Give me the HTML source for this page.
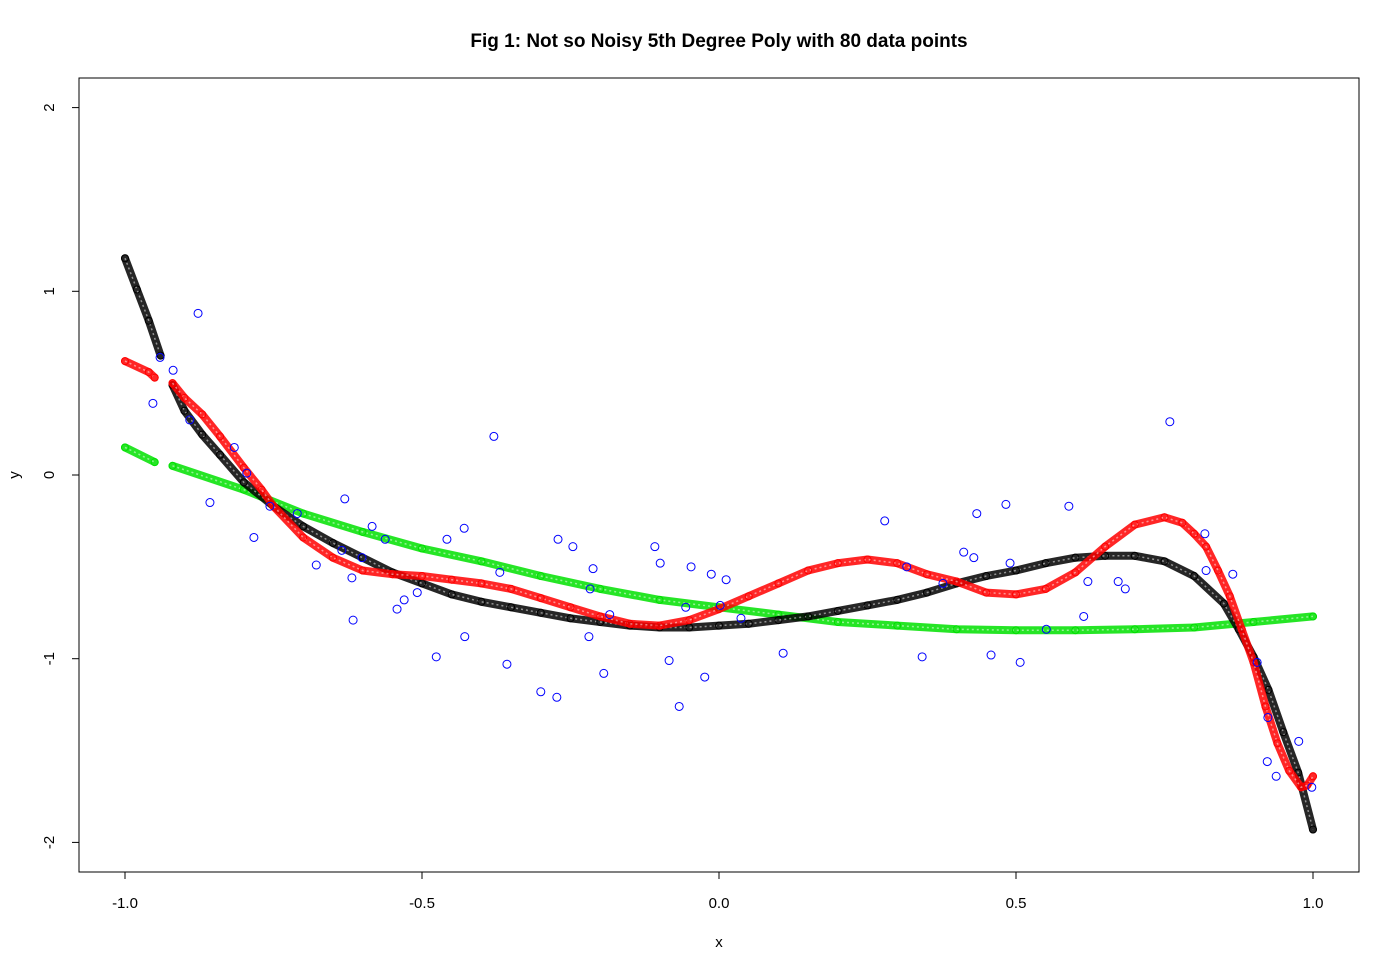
<!DOCTYPE html>
<html><head><meta charset="utf-8"><style>
html,body{margin:0;padding:0;background:#fff}
svg{display:block;font-family:"Liberation Sans",Arial,sans-serif}
</style></head><body>
<svg id="chart" width="1400" height="971" viewBox="0 0 1400 971">
<text x="719" y="47" text-anchor="middle" font-size="19" font-weight="bold">Fig 1: Not so Noisy 5th Degree Poly with 80 data points</text>
<rect x="79" y="78" width="1280" height="794" fill="none" stroke="#000" stroke-width="1"/>
<g id="axes"></g>
<g id="marks"></g>
<text x="719" y="947" text-anchor="middle" font-size="15">x</text>
<text x="19" y="475" text-anchor="middle" font-size="15" transform="rotate(-90 19 475)">y</text>
</svg>
<script>
const xTicks = [-1.0, -0.5, 0.0, 0.5, 1.0];
const xTickLabels = ["-1.0", "-0.5", "0.0", "0.5", "1.0"];
const yTicks = [-2, -1, 0, 1, 2];
const yTickLabels = ["-2", "-1", "0", "1", "2"];

// true polynomial (black)
const blackX = [-1,-0.98,-0.96,-0.94,null,-0.92,-0.9,-0.87,-0.84,-0.8,-0.75,-0.7,-0.65,-0.6,-0.55,-0.5,-0.45,-0.4,-0.35,-0.3,-0.25,-0.2,-0.15,-0.1,-0.05,0,0.05,0.1,0.15,0.2,0.25,0.3,0.35,0.4,0.45,0.5,0.55,0.6,0.65,0.7,0.75,0.8,0.85,0.875,0.9,0.925,0.95,0.975,1.0];
const blackY = [1.18,1.01,0.84,0.65,null,0.49,0.35,0.22,0.11,-0.04,-0.17,-0.28,-0.37,-0.45,-0.53,-0.59,-0.65,-0.69,-0.72,-0.75,-0.78,-0.80,-0.82,-0.83,-0.83,-0.82,-0.81,-0.79,-0.77,-0.74,-0.71,-0.68,-0.64,-0.59,-0.55,-0.52,-0.48,-0.45,-0.44,-0.44,-0.47,-0.55,-0.70,-0.84,-0.99,-1.17,-1.40,-1.62,-1.93];

// high-degree fit (red)
const redX = [-1,-0.96,-0.95,null,-0.92,-0.9,-0.87,-0.84,-0.8,-0.77,-0.75,-0.7,-0.65,-0.6,-0.55,-0.5,-0.45,-0.4,-0.35,-0.3,-0.25,-0.2,-0.15,-0.1,-0.05,0,0.05,0.1,0.15,0.2,0.25,0.3,0.35,0.4,0.45,0.5,0.55,0.6,0.65,0.7,0.75,0.78,0.8,0.82,0.84,0.86,0.88,0.9,0.92,0.94,0.96,0.98,0.99,1.0];
const redY = [0.62,0.56,0.53,null,0.50,0.42,0.33,0.21,0.04,-0.08,-0.17,-0.34,-0.45,-0.52,-0.54,-0.55,-0.57,-0.59,-0.62,-0.67,-0.72,-0.77,-0.81,-0.82,-0.79,-0.73,-0.66,-0.59,-0.52,-0.48,-0.46,-0.48,-0.54,-0.58,-0.64,-0.65,-0.62,-0.53,-0.39,-0.27,-0.23,-0.26,-0.32,-0.39,-0.52,-0.66,-0.84,-1.02,-1.26,-1.46,-1.61,-1.70,-1.69,-1.64];

// low-degree fit (green)
const greenX = [-1,-0.95,null,-0.92,-0.8,-0.7,-0.6,-0.5,-0.4,-0.3,-0.2,-0.1,0,0.1,0.2,0.3,0.4,0.5,0.6,0.7,0.8,0.9,1.0];
const greenY = [0.15,0.07,null,0.05,-0.08,-0.21,-0.31,-0.40,-0.47,-0.55,-0.62,-0.68,-0.72,-0.76,-0.80,-0.82,-0.84,-0.845,-0.845,-0.84,-0.83,-0.80,-0.77];

// noisy sample points (blue)
const sampleX = [-0.877,-0.919,-0.953,-0.816,-0.857,-0.783,-0.941,-0.891,-0.795,-0.710,-0.756,-0.630,-0.584,-0.562,-0.678,-0.618,-0.635,-0.601,-0.458,-0.429,-0.508,-0.530,-0.542,-0.616,-0.428,-0.379,-0.369,-0.476,-0.357,-0.300,-0.273,-0.271,-0.246,-0.217,-0.212,-0.219,-0.194,-0.184,-0.108,-0.099,-0.084,-0.067,-0.056,-0.047,-0.024,-0.013,0.002,0.012,0.037,0.108,0.279,0.759,0.434,0.483,0.589,0.412,0.429,0.490,0.316,0.377,0.621,0.672,0.684,0.614,0.551,0.342,0.458,0.507,0.818,0.820,0.865,0.906,0.924,0.976,0.923,0.938,0.998];
const sampleY = [0.88,0.57,0.39,0.15,-0.15,-0.34,0.64,0.30,0.01,-0.21,-0.17,-0.13,-0.28,-0.35,-0.49,-0.56,-0.41,-0.45,-0.35,-0.29,-0.64,-0.68,-0.73,-0.79,-0.88,0.21,-0.53,-0.99,-1.03,-1.18,-1.21,-0.35,-0.39,-0.62,-0.51,-0.88,-1.08,-0.76,-0.39,-0.48,-1.01,-1.26,-0.72,-0.50,-1.10,-0.54,-0.71,-0.57,-0.78,-0.97,-0.25,0.29,-0.21,-0.16,-0.17,-0.42,-0.45,-0.48,-0.50,-0.59,-0.58,-0.58,-0.62,-0.77,-0.84,-0.99,-0.98,-1.02,-0.32,-0.52,-0.54,-1.02,-1.32,-1.45,-1.56,-1.64,-1.70];

const NS = "http://www.w3.org/2000/svg";
const sx = v => 719 + v * 594;
const sy = v => 475 - v * 183.7;
const axes = document.getElementById('axes');
const marks = document.getElementById('marks');
function mk(tag, attrs, parent){ const e = document.createElementNS(NS, tag); for (const k in attrs) e.setAttribute(k, attrs[k]); parent.appendChild(e); return e; }

mk('line', {x1: sx(xTicks[0]), x2: sx(xTicks[xTicks.length-1]), y1: 872, y2: 872, stroke: '#000'}, axes);
xTicks.forEach((t, i) => {
  const tk = mk('line', {x1: sx(t), x2: sx(t), y1: 872, y2: 879, stroke: '#000'}, axes);
  
  
  const lb = mk('text', {x: sx(t), y: 908, 'text-anchor': 'middle', 'font-size': 15}, axes);
  lb.textContent = xTickLabels[i];
  
  
});
mk('line', {x1: 79, x2: 79, y1: sy(yTicks[0]), y2: sy(yTicks[yTicks.length-1]), stroke: '#000'}, axes);
yTicks.forEach((t, i) => {
  const tk = mk('line', {x1: 72, x2: 79, y1: sy(t), y2: sy(t), stroke: '#000'}, axes);
  
  
  const lb = mk('text', {x: 54, y: sy(t), 'text-anchor': 'middle', 'font-size': 15, transform: `rotate(-90 54 ${sy(t)})`}, axes);
  lb.textContent = yTickLabels[i];
  
  
});

function curve(xs, ys, color, name){
  const g = mk('g', {}, marks);
  
  
  let d = '', start = true;
  for (let i = 0; i < xs.length; i++){
    if (xs[i] === null){ start = true; continue; }
    d += (start ? 'M' : 'L') + sx(xs[i]).toFixed(1) + ' ' + sy(ys[i]).toFixed(1) + ' ';
    start = false;
  }
  mk('path', {d: d, fill: 'none', stroke: color, 'stroke-width': 8, 'stroke-linecap': 'round', 'stroke-linejoin': 'round', opacity: 0.85}, g);
  mk('path', {d: d, fill: 'none', stroke: '#fff', 'stroke-width': 1.5, 'stroke-dasharray': '2 3', opacity: 0.5}, g);
  for (let i = 0; i < xs.length; i++){
    if (xs[i] === null) continue;
    const c = mk('circle', {cx: sx(xs[i]), cy: sy(ys[i]), r: 3.5, fill: 'none', stroke: color, 'stroke-width': 1}, g);
    
    
  }
}
curve(greenX, greenY, '#00e000', 'green-fit-curve');
curve(blackX, blackY, '#000000', 'true-poly-curve');
curve(redX, redY, '#ff0000', 'red-fit-curve');

sampleX.forEach((x, i) => {
  const c = mk('circle', {cx: sx(x), cy: sy(sampleY[i]), r: 4, fill: 'none', stroke: '#0000ff', 'stroke-width': 1}, marks);
  
  
});
</script>
</body></html>
